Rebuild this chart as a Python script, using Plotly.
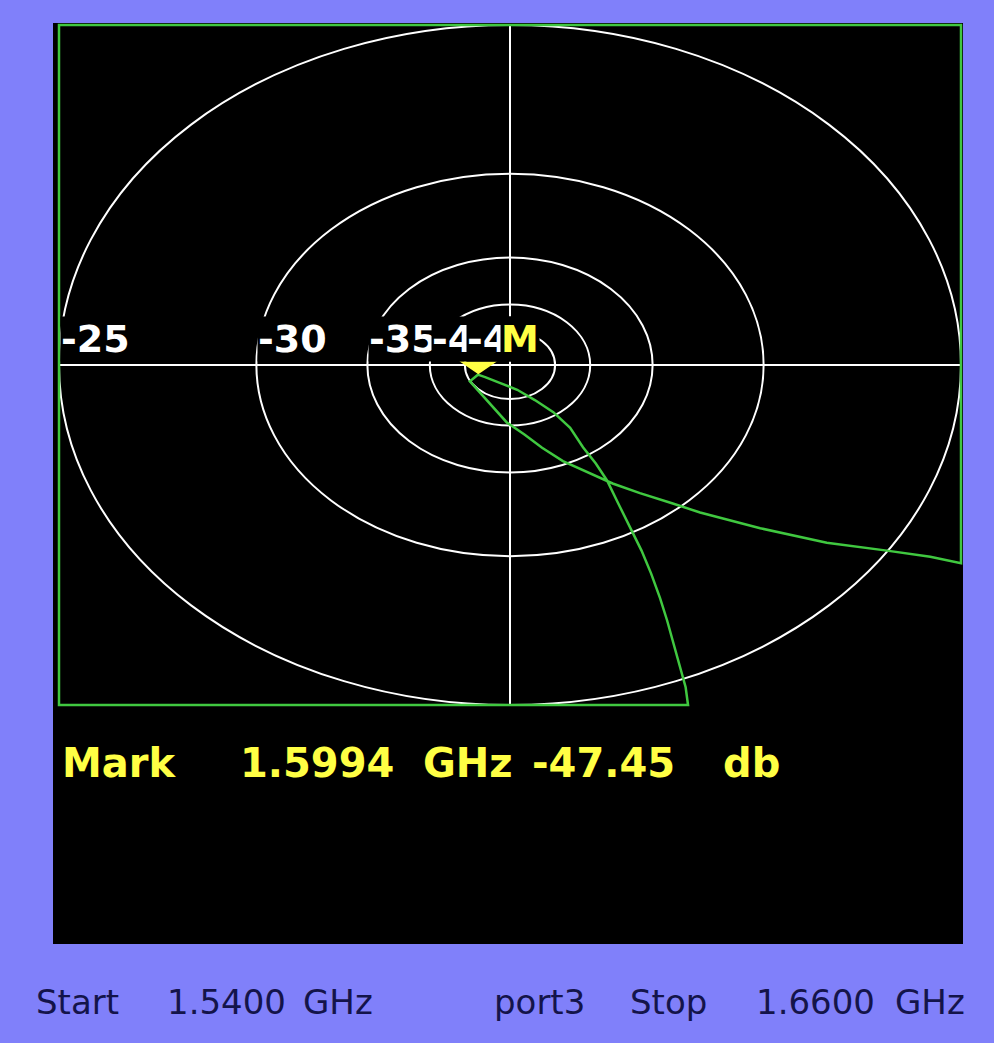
import numpy as np
import plotly.graph_objects as go

# ---------------- data ----------------
full_scale_db = -25                       # outer ring of the polar display
ring_db = [-25, -30, -35, -40, -45]
ring_labels = ["-25", "-30", "-35", "-40", "-45"]

# displayed S-parameter trace (linear real / imaginary parts), as clamped by the instrument frame
trace_re = [0.0150, -0.0563, -0.0563, 0.0563,
            0.0563, 0.0524, 0.0470, 0.0395, 0.0312, 0.0237, 0.0203, 0.0162, 0.0128,
            0.0100, 0.0066, 0.0040, 0.0018, -0.0004, -0.0029, -0.0050, -0.0040,
            -0.0031, -0.0012, 0.0009, 0.0031, 0.0054, 0.0075, 0.0091, 0.0107, 0.0121,
            0.0135, 0.0150, 0.0164, 0.0176, 0.0187, 0.0196, 0.0204, 0.0212, 0.0219,
            0.0222, 0.0100]
trace_im = [-0.0563, -0.0563, 0.0563, 0.0563,
            -0.0328, -0.0317, -0.0307, -0.0294, -0.0270, -0.0244, -0.0229, -0.0212, -0.0196,
            -0.0179, -0.0159, -0.0137, -0.0115, -0.0095, -0.0058, -0.0027, -0.0016,
            -0.0020, -0.0030, -0.0041, -0.0058, -0.0078, -0.0104, -0.0136, -0.0163, -0.0191,
            -0.0229, -0.0268, -0.0307, -0.0345, -0.0385, -0.0423, -0.0461, -0.0498, -0.0533,
            -0.0563, -0.0563]

marker_label = "M"
marker_freq_ghz = 1.5994
marker_db = -47.45
marker_angle_deg = 201.4

start_ghz = 1.5400
stop_ghz = 1.6600
port_name = "port3"

# ---------------- styling / geometry ----------------
W, H = 994, 1043
BG = "#8080FA"
GREEN = "#40C840"
YELLOW = "#FFFF44"
NAVY = "#14144A"

R = 10 ** (full_scale_db / 20)
cx, cy = 510, 365          # centre of polar display (px)
hx, hy = 451, 340          # half extent of polar display (px)
pad = 2

rx = R * (hx + pad) / hx
ry = R * (hy + pad) / hy
kx = R / hx                # data units per px
ky = R / hy

def px(x):
    return x / W

def py(y):
    return 1 - y / H

re = np.clip(np.array(trace_re), -R, R)
im = np.clip(np.array(trace_im), -R, R)

fig = go.Figure()

# trace
fig.add_trace(go.Scatter(x=re, y=im, mode="lines",
                         line=dict(color=GREEN, width=2.5), hoverinfo="skip"))

# marker triangle (tip at marker point)
mr = 10 ** (marker_db / 20)
mx = mr * np.cos(np.deg2rad(marker_angle_deg))
my = mr * np.sin(np.deg2rad(marker_angle_deg))
tri_x = [mx, mx - 19 * kx, mx + 19 * kx, mx]
tri_y = [my, my + 13 * ky, my + 13 * ky, my]

shapes = []
# black instrument panel
shapes.append(dict(type="rect", xref="paper", yref="paper",
                   x0=px(53), x1=px(963), y0=py(944), y1=py(23),
                   fillcolor="black", line=dict(width=0), layer="below"))
# rings
for db in ring_db:
    r = 10 ** (db / 20)
    shapes.append(dict(type="circle", xref="x", yref="y", x0=-r, x1=r, y0=-r, y1=r,
                       line=dict(color="white", width=2), layer="below"))
# cross hairs
shapes.append(dict(type="line", xref="x", yref="y", x0=-R, x1=R, y0=0, y1=0,
                   line=dict(color="white", width=2), layer="below"))
shapes.append(dict(type="line", xref="x", yref="y", x0=0, x1=0, y0=-R, y1=R,
                   line=dict(color="white", width=2), layer="below"))

fig.add_trace(go.Scatter(x=tri_x, y=tri_y, mode="lines", fill="toself",
                         fillcolor=YELLOW, line=dict(width=0, color=YELLOW),
                         hoverinfo="skip"))

annotations = []
lab_font = dict(family="DejaVu Sans", size=38, color="white", weight="bold")
for db, lab in zip(ring_db, ring_labels):
    r = 10 ** (db / 20)
    annotations.append(dict(x=-r, y=0, xref="x", yref="y", text=lab,
                            xanchor="left", yanchor="bottom", xshift=1, yshift=3,
                            showarrow=False, bgcolor="black", borderpad=0,
                            font=lab_font))
annotations.append(dict(x=mx, y=0, xref="x", yref="y", text=marker_label,
                        xanchor="left", yanchor="bottom", xshift=22, yshift=3,
                        showarrow=False, bgcolor="black", borderpad=0,
                        font=dict(family="DejaVu Sans", size=38, color=YELLOW, weight="bold")))

# marker readout
mark_font = dict(family="DejaVu Sans", size=40, color=YELLOW, weight="bold")
mark_words = [("Mark", 119), (f"{marker_freq_ghz:.4f}", 317), ("GHz", 468),
              (f"{marker_db:.2f}", 603), ("db", 751)]
for t, xc in mark_words:
    annotations.append(dict(x=px(xc), y=py(763), xref="paper", yref="paper", text=t,
                            xanchor="center", yanchor="middle", showarrow=False,
                            font=mark_font))

# footer
foot_font = dict(family="DejaVu Sans", size=34, color=NAVY)
foot_words = [("Start", 77), (f"{start_ghz:.4f}", 226), ("GHz", 338),
              (port_name, 539), ("Stop", 668), (f"{stop_ghz:.4f}", 815), ("GHz", 930)]
for t, xc in foot_words:
    annotations.append(dict(x=px(xc), y=py(1002), xref="paper", yref="paper", text=t,
                            xanchor="center", yanchor="middle", showarrow=False,
                            font=foot_font))

fig.update_layout(
    width=W, height=H, autosize=False,
    margin=dict(l=0, r=0, t=0, b=0, pad=0),
    paper_bgcolor=BG, plot_bgcolor="rgba(0,0,0,0)",
    showlegend=False,
    xaxis=dict(domain=[px(cx - hx - pad), px(cx + hx + pad)], range=[-rx, rx],
               visible=False, fixedrange=True),
    yaxis=dict(domain=[py(cy + hy + pad), py(cy - hy - pad)], range=[-ry, ry],
               visible=False, fixedrange=True),
    shapes=shapes,
    annotations=annotations,
)

fig.write_html("out.html", config={"displayModeBar": False},
               post_script="document.body.style.margin='0';document.body.style.overflow='hidden';")
